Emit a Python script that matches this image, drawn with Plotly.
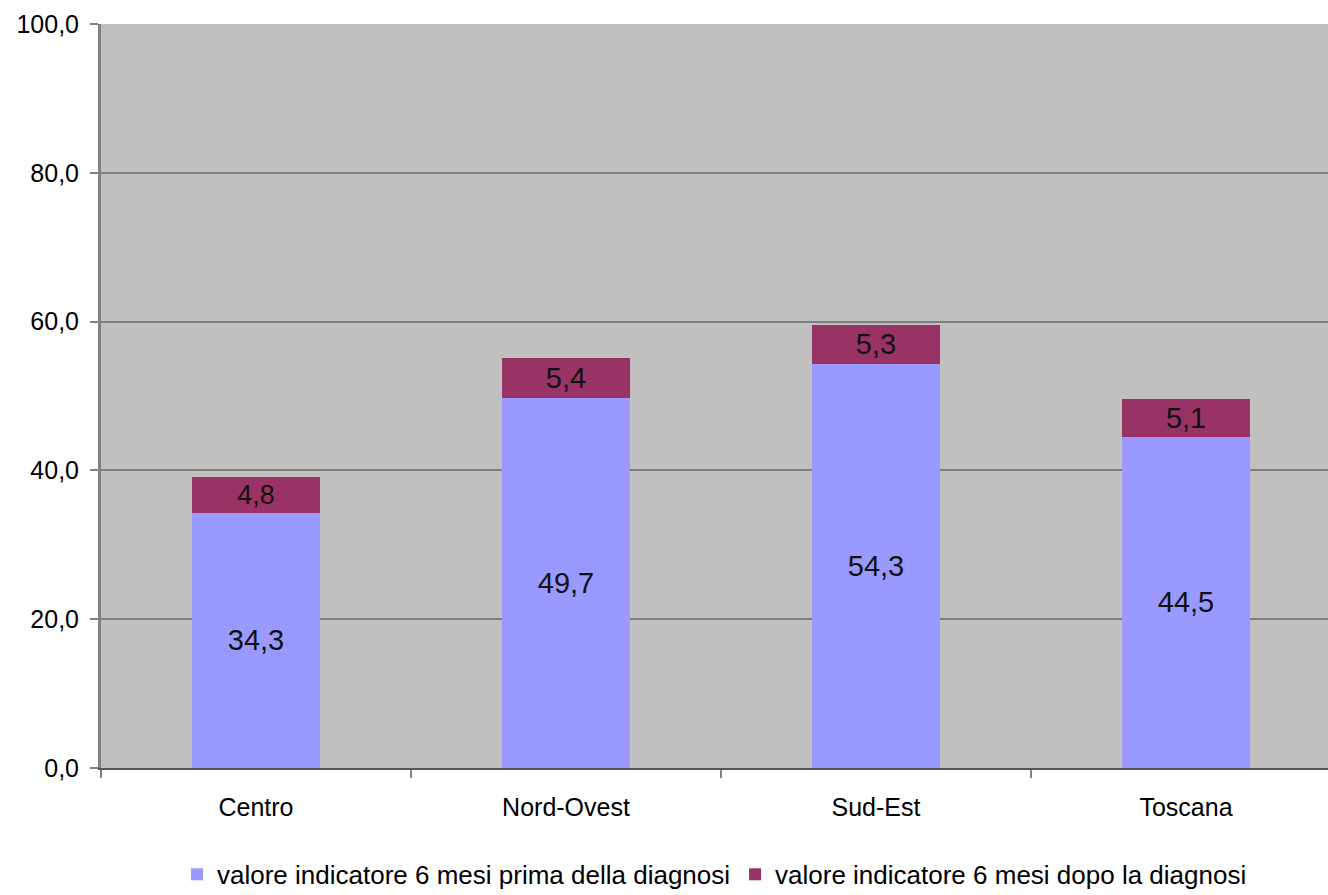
import plotly.graph_objects as go

categories = ["Centro", "Nord-Ovest", "Sud-Est", "Toscana"]
prima = [34.3, 49.7, 54.3, 44.5]
dopo = [4.8, 5.4, 5.3, 5.1]
series_names = ["valore indicatore 6 mesi prima della diagnosi",
                "valore indicatore 6 mesi dopo la diagnosi"]
y_ticks = [0, 20, 40, 60, 80, 100]

FONT = "Liberation Sans, Arial, sans-serif"

fig = go.Figure()
fig.add_trace(go.Bar(
    x=categories, y=prima, name=series_names[0],
    marker=dict(color="#9999FF", line=dict(width=0)),
    texttemplate="%{y:.1f}", textposition="inside", insidetextanchor="middle",
    textangle=0, textfont=dict(family=FONT, size=29, color="#111111"),
    width=0.41,
))
fig.add_trace(go.Bar(
    x=categories, y=dopo, name=series_names[1],
    marker=dict(color="#993366", line=dict(width=0)),
    texttemplate="%{y:.1f}", textposition="inside", insidetextanchor="middle",
    textangle=0, textfont=dict(family=FONT, size=29, color="#111111"),
    width=0.41,
))

fig.update_layout(
    barmode="stack",
    width=1328, height=895,
    margin=dict(l=101, r=0, t=24, b=127, autoexpand=False),
    paper_bgcolor="white",
    plot_bgcolor="#C0C0C0",
    separators=",.",
    font=dict(family=FONT, size=25, color="#000000"),
    showlegend=True,
    legend=dict(orientation="h", x=0.5, xanchor="center", y=-0.143, yanchor="middle",
                font=dict(family=FONT, size=26, color="#000000"),
                itemsizing="constant", traceorder="normal", itemwidth=30,
                tracegroupgap=0),
    uniformtext=dict(mode=False),
)
fig.update_xaxes(
    type="category", range=[-0.5, 3.5 - 13 / 310], automargin=False,
    tickson="boundaries", ticks="outside", ticklen=8, tickwidth=2, tickcolor="#808080",
    showline=True, linecolor="#555555", linewidth=2, ticklabelstandoff=16,
    showgrid=False, tickfont=dict(family=FONT, size=25, color="#000000"),
    fixedrange=True,
)
fig.update_yaxes(
    range=[0, 100], tickvals=y_ticks, tickformat=".1f", automargin=False,
    ticks="outside", ticklen=8, tickwidth=2, tickcolor="#808080",
    showline=True, linecolor="#808080", linewidth=3, ticklabelstandoff=6,
    showgrid=True, gridcolor="#808080", gridwidth=2,
    zeroline=False, fixedrange=True,
    tickfont=dict(family=FONT, size=25, color="#000000"),
)

# remove the default 8px page margin so the figure fills the window exactly
fig.write_html("out.html", config={"displayModeBar": False},
               post_script="document.body.style.margin='0';document.body.style.overflow='hidden';")
